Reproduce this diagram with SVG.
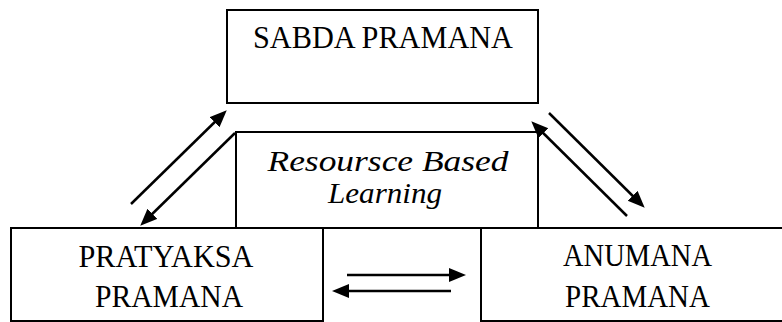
<svg xmlns="http://www.w3.org/2000/svg" width="782" height="322" viewBox="0 0 782 322">
  <defs>
    <style>
      .box { fill: #ffffff; stroke: #000000; stroke-width: 2; }
      .label { font-family: "Liberation Serif", "Times New Roman", serif; font-size: 31px; fill: #000000; text-anchor: middle; }
      .italic { font-style: italic; font-size: 29px; }
      .link { stroke: #000000; stroke-width: 2.5; fill: none; marker-end: url(#head); }
    </style>
    <marker id="head" markerUnits="userSpaceOnUse" markerWidth="18" markerHeight="16" refX="6" refY="7" orient="auto">
      <path d="M0,0 L17,7 L0,14 Z" fill="#000000"/>
    </marker>
  </defs>

  <rect width="782" height="322" fill="#ffffff"/>

  <g id="node-sabda">
    <rect class="box" x="227" y="10" width="311" height="93"/>
    <text class="label" x="383" y="48" textLength="260" lengthAdjust="spacingAndGlyphs">SABDA PRAMANA</text>
  </g>

  <g id="node-rbl">
    <rect class="box" x="236" y="132" width="302" height="96"/>
    <text class="label italic" x="388" y="171" textLength="241" lengthAdjust="spacingAndGlyphs">Resoursce Based</text>
    <text class="label italic" x="385" y="203" textLength="114" lengthAdjust="spacingAndGlyphs">Learning</text>
  </g>

  <g id="node-pratyaksa">
    <rect class="box" x="11" y="228" width="312" height="93"/>
    <text class="label" x="166" y="267" textLength="175" lengthAdjust="spacingAndGlyphs">PRATYAKSA</text>
    <text class="label" x="169" y="307" textLength="148" lengthAdjust="spacingAndGlyphs">PRAMANA</text>
  </g>

  <g id="node-anumana">
    <rect class="box" x="481" y="228" width="330" height="93"/>
    <text class="label" x="637.5" y="266" textLength="149" lengthAdjust="spacingAndGlyphs">ANUMANA</text>
    <text class="label" x="637.5" y="307" textLength="145" lengthAdjust="spacingAndGlyphs">PRAMANA</text>
  </g>

  <g id="connectors">
    <line class="link" x1="131" y1="204" x2="218.9" y2="118"/>
    <line class="link" x1="235" y1="133" x2="148.1" y2="218"/>
    <line class="link" x1="549" y1="113" x2="636.9" y2="200"/>
    <line class="link" x1="627" y1="216" x2="539.1" y2="129"/>
    <line class="link" x1="347" y1="275" x2="455" y2="275"/>
    <line class="link" x1="451" y1="291" x2="343" y2="291"/>
  </g>
</svg>
